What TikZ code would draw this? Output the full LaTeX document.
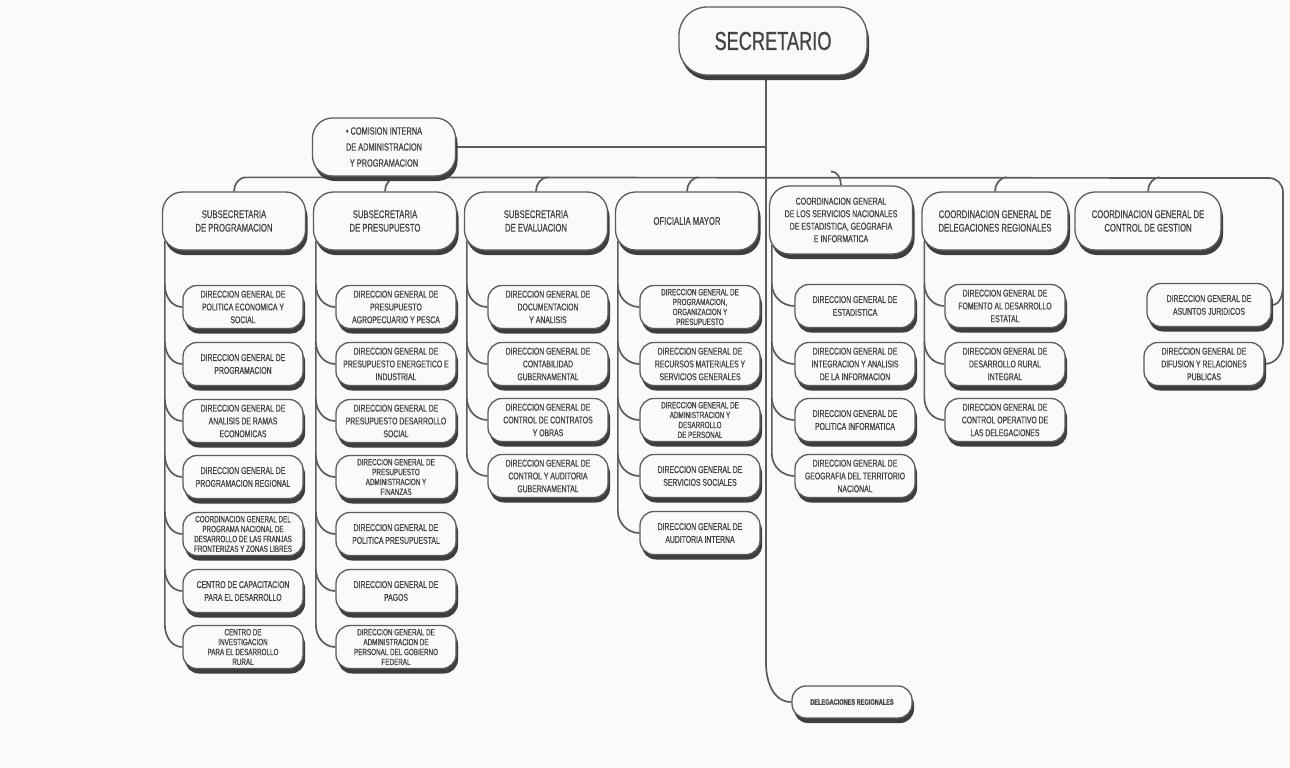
\documentclass[tikz,border=0pt]{standalone}
\usepackage{fontspec}
\setmainfont{Liberation Sans}[FakeStretch=0.7, FakeBold=0.7]
\usetikzlibrary{shadows,calc}
\pgfdeclarelayer{paper}
\pgfdeclarelayer{wires}
\pgfsetlayers{paper,wires,main}
\definecolor{paperc}{HTML}{FAFAF8}
\definecolor{lineg}{HTML}{5C5C5C}
\definecolor{inkg}{HTML}{444444}
\definecolor{shadowg}{HTML}{3E3E3E}
\tikzset{
  box/.style={draw=lineg, line width=1.3pt, fill=paperc, rounded corners=14pt,
    align=center, inner sep=2pt, text=inkg,
    drop shadow={shadow xshift=2pt, shadow yshift=-5pt, fill=shadowg, opacity=1}},
  headbox/.style={box, minimum width=143pt, minimum height=58pt, rounded corners=20pt,
    font=\fontsize{11}{13.5}\selectfont},
  subbox/.style={box, minimum width=120pt, minimum height=43pt,
    font=\fontsize{9.8}{12.8}\selectfont},
  tightbox/.style={subbox, font=\fontsize{9}{9.9}\selectfont},
  link/.style={draw=lineg, line width=1.7pt},
}

\begin{document}
\begin{tikzpicture}[x=1pt,y=-1pt]
\begin{pgfonlayer}{paper}
  \fill[paperc] (0,0) rectangle (1290,768);
\end{pgfonlayer}
\useasboundingbox (0,0) rectangle (1290,768);

% Top level
\node[box, minimum width=188pt, minimum height=68pt, rounded corners=28pt,
  font=\fontsize{26}{28}\selectfont] (sec) at (773,41) {SECRETARIO};
\node[headbox, font=\fontsize{10.5}{16}\selectfont] (com) at (384,147)
  {\textbullet\ COMISION INTERNA\\DE ADMINISTRACION\\Y PROGRAMACION};

% Heads
\node[headbox] (h1) at (234,221) {SUBSECRETARIA\\DE PROGRAMACION};
\node[headbox] (h2) at (385,221) {SUBSECRETARIA\\DE PRESUPUESTO};
\node[headbox] (h3) at (536,221) {SUBSECRETARIA\\DE EVALUACION};
\node[headbox] (h4) at (687,221) {OFICIALIA MAYOR};
\node[headbox, minimum height=68pt, font=\fontsize{10}{12.5}\selectfont] (h5) at (841,220)
  {COORDINACION GENERAL\\DE LOS SERVICIOS NACIONALES\\DE ESTADISTICA, GEOGRAFIA\\E INFORMATICA};
\node[headbox, minimum width=146pt] (h6) at (995,221) {COORDINACION GENERAL DE\\DELEGACIONES REGIONALES};
\node[headbox, minimum width=146pt] (h7) at (1148,221) {COORDINACION GENERAL DE\\CONTROL DE GESTION};

% Subsecretaria de programacion
\node[subbox] (c11) at (243,307) {DIRECCION GENERAL DE\\POLITICA ECONOMICA Y\\SOCIAL};
\node[subbox] (c12) at (243,364) {DIRECCION GENERAL DE\\PROGRAMACION};
\node[subbox] (c13) at (243,421) {DIRECCION GENERAL DE\\ANALISIS DE RAMAS\\ECONOMICAS};
\node[subbox] (c14) at (243,477) {DIRECCION GENERAL DE\\PROGRAMACION REGIONAL};
\node[tightbox] (c15) at (243,534) {COORDINACION GENERAL DEL\\PROGRAMA NACIONAL DE\\DESARROLLO DE LAS FRANJAS\\FRONTERIZAS Y ZONAS LIBRES};
\node[subbox] (c16) at (243,591) {CENTRO DE CAPACITACION\\PARA EL DESARROLLO};
\node[tightbox] (c17) at (243,647) {CENTRO DE\\INVESTIGACION\\PARA EL DESARROLLO\\RURAL};

% Subsecretaria de presupuesto
\node[subbox] (c21) at (396,307) {DIRECCION GENERAL DE\\PRESUPUESTO\\AGROPECUARIO Y PESCA};
\node[subbox] (c22) at (396,364) {DIRECCION GENERAL DE\\PRESUPUESTO ENERGETICO E\\INDUSTRIAL};
\node[subbox] (c23) at (396,421) {DIRECCION GENERAL DE\\PRESUPUESTO DESARROLLO\\SOCIAL};
\node[tightbox] (c24) at (396,477) {DIRECCION GENERAL DE\\PRESUPUESTO\\ADMINISTRACION Y\\FINANZAS};
\node[subbox] (c25) at (396,534) {DIRECCION GENERAL DE\\POLITICA PRESUPUESTAL};
\node[subbox] (c26) at (396,591) {DIRECCION GENERAL DE\\PAGOS};
\node[tightbox] (c27) at (396,647) {DIRECCION GENERAL DE\\ADMINISTRACION DE\\PERSONAL DEL GOBIERNO\\FEDERAL};

% Subsecretaria de evaluacion
\node[subbox] (c31) at (548,307) {DIRECCION GENERAL DE\\DOCUMENTACION\\Y ANALISIS};
\node[subbox] (c32) at (548,364) {DIRECCION GENERAL DE\\CONTABILIDAD\\GUBERNAMENTAL};
\node[subbox] (c33) at (548,420) {DIRECCION GENERAL DE\\CONTROL DE CONTRATOS\\Y OBRAS};
\node[subbox] (c34) at (548,476) {DIRECCION GENERAL DE\\CONTROL Y AUDITORIA\\GUBERNAMENTAL};

% Oficialia mayor
\node[tightbox] (c41) at (700,307) {DIRECCION GENERAL DE\\PROGRAMACION,\\ORGANIZACION Y\\PRESUPUESTO};
\node[subbox] (c42) at (700,364) {DIRECCION GENERAL DE\\RECURSOS MATERIALES Y\\SERVICIOS GENERALES};
\node[tightbox] (c43) at (700,420) {DIRECCION GENERAL DE\\ADMINISTRACION Y\\DESARROLLO\\DE PERSONAL};
\node[subbox] (c44) at (700,476) {DIRECCION GENERAL DE\\SERVICIOS SOCIALES};
\node[subbox] (c45) at (700,533) {DIRECCION GENERAL DE\\AUDITORIA INTERNA};

% Estadistica, geografia e informatica
\node[subbox] (c51) at (855,306) {DIRECCION GENERAL DE\\ESTADISTICA};
\node[subbox] (c52) at (855,364) {DIRECCION GENERAL DE\\INTEGRACION Y ANALISIS\\DE LA INFORMACION};
\node[subbox] (c53) at (855,420) {DIRECCION GENERAL DE\\POLITICA INFORMATICA};
\node[subbox] (c54) at (855,476) {DIRECCION GENERAL DE\\GEOGRAFIA DEL TERRITORIO\\NACIONAL};

% Delegaciones regionales
\node[subbox] (c61) at (1005,306) {DIRECCION GENERAL DE\\FOMENTO AL DESARROLLO\\ESTATAL};
\node[subbox] (c62) at (1005,364) {DIRECCION GENERAL DE\\DESARROLLO RURAL\\INTEGRAL};
\node[subbox] (c63) at (1005,420) {DIRECCION GENERAL DE\\CONTROL OPERATIVO DE\\LAS DELEGACIONES};

% Control de gestion
\node[subbox, minimum width=124pt] (c71) at (1209,305) {DIRECCION GENERAL DE\\ASUNTOS JURIDICOS};
\node[subbox] (c72) at (1204,364) {DIRECCION GENERAL DE\\DIFUSION Y RELACIONES\\PUBLICAS};

\node[box, minimum width=120pt, minimum height=32pt, font=\fontsize{8}{9}\selectfont\bfseries]
  (del) at (852,702) {DELEGACIONES REGIONALES};

% Lines
\begin{pgfonlayer}{wires}
  \coordinate (tk) at ([xshift=-7pt]sec.center);
  \coordinate (busR) at (1283,178);
  \draw[link] (tk) -- ($(tk |- del.north)+(0,-22)$) to[out=-90,in=180] (del.west);
  \draw[link] (com.east) -- (com.east -| tk);

  % bus
  \draw[link] (h1.north) to[out=90,in=180] ++(12,-14) -- ([xshift=-14pt]busR)
    to[out=0,in=90] ([yshift=-14pt]busR) -- (busR |- c72.north) to[out=-90,in=0] (c72.east);
  \draw[link] (busR |- c71.north) to[out=-90,in=0] (c71.east);
  \draw[link] (h2.north) to[out=90,in=180] ++(12,-14);
  \draw[link] (h3.north) to[out=90,in=180] ++(12,-14);
  \draw[link] (h4.north) to[out=90,in=180] ++(12,-14);
  \draw[link] (h5.north) to[out=90,in=0] ++(-10,-14);
  \draw[link] (h6.north) to[out=90,in=180] ++(12,-14);
  \draw[link] (h7.north) to[out=90,in=180] ++(12,-14);

  % columns
  \coordinate (v1) at ([xshift=3pt,yshift=10pt]h1.south west);
  \draw[link] (v1) -- (v1 |- c17.north) to[out=-90,in=180] (c17.west);
  \draw[link] (v1 |- c11.north) to[out=-90,in=180] (c11.west);
  \draw[link] (v1 |- c12.north) to[out=-90,in=180] (c12.west);
  \draw[link] (v1 |- c13.north) to[out=-90,in=180] (c13.west);
  \draw[link] (v1 |- c14.north) to[out=-90,in=180] (c14.west);
  \draw[link] (v1 |- c15.north) to[out=-90,in=180] (c15.west);
  \draw[link] (v1 |- c16.north) to[out=-90,in=180] (c16.west);

  \coordinate (v2) at ([xshift=3pt,yshift=10pt]h2.south west);
  \draw[link] (v2) -- (v2 |- c27.north) to[out=-90,in=180] (c27.west);
  \draw[link] (v2 |- c21.north) to[out=-90,in=180] (c21.west);
  \draw[link] (v2 |- c22.north) to[out=-90,in=180] (c22.west);
  \draw[link] (v2 |- c23.north) to[out=-90,in=180] (c23.west);
  \draw[link] (v2 |- c24.north) to[out=-90,in=180] (c24.west);
  \draw[link] (v2 |- c25.north) to[out=-90,in=180] (c25.west);
  \draw[link] (v2 |- c26.north) to[out=-90,in=180] (c26.west);

  \coordinate (v3) at ([xshift=3pt,yshift=10pt]h3.south west);
  \draw[link] (v3) -- (v3 |- c34.north) to[out=-90,in=180] (c34.west);
  \draw[link] (v3 |- c31.north) to[out=-90,in=180] (c31.west);
  \draw[link] (v3 |- c32.north) to[out=-90,in=180] (c32.west);
  \draw[link] (v3 |- c33.north) to[out=-90,in=180] (c33.west);

  \coordinate (v4) at ([xshift=3pt,yshift=10pt]h4.south west);
  \draw[link] (v4) -- (v4 |- c45.north) to[out=-90,in=180] (c45.west);
  \draw[link] (v4 |- c41.north) to[out=-90,in=180] (c41.west);
  \draw[link] (v4 |- c42.north) to[out=-90,in=180] (c42.west);
  \draw[link] (v4 |- c43.north) to[out=-90,in=180] (c43.west);
  \draw[link] (v4 |- c44.north) to[out=-90,in=180] (c44.west);

  \coordinate (v5) at ([xshift=3pt,yshift=10pt]h5.south west);
  \draw[link] (v5) -- (v5 |- c54.north) to[out=-90,in=180] (c54.west);
  \draw[link] (v5 |- c51.north) to[out=-90,in=180] (c51.west);
  \draw[link] (v5 |- c52.north) to[out=-90,in=180] (c52.west);
  \draw[link] (v5 |- c53.north) to[out=-90,in=180] (c53.west);

  \coordinate (v6) at ([xshift=3pt,yshift=10pt]h6.south west);
  \draw[link] (v6) -- (v6 |- c63.north) to[out=-90,in=180] (c63.west);
  \draw[link] (v6 |- c61.north) to[out=-90,in=180] (c61.west);
  \draw[link] (v6 |- c62.north) to[out=-90,in=180] (c62.west);
\end{pgfonlayer}
\end{tikzpicture}
\end{document}
